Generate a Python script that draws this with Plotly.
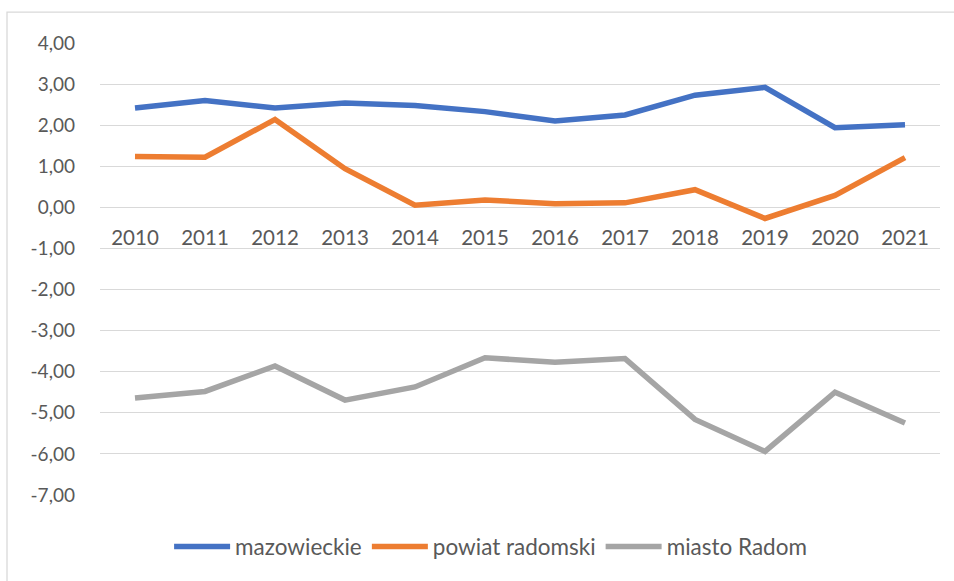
import plotly.graph_objects as go

years = ["2010", "2011", "2012", "2013", "2014", "2015", "2016", "2017", "2018", "2019", "2020", "2021"]
mazowieckie = [2.42, 2.60, 2.42, 2.54, 2.48, 2.33, 2.10, 2.25, 2.73, 2.92, 1.94, 2.01]
powiat_radomski = [1.24, 1.22, 2.14, 0.94, 0.05, 0.18, 0.09, 0.11, 0.43, -0.27, 0.29, 1.21]
miasto_radom = [-4.64, -4.48, -3.86, -4.69, -4.37, -3.66, -3.77, -3.68, -5.16, -5.94, -4.50, -5.25]
y_ticks = [4, 3, 2, 1, 0, -1, -2, -3, -4, -5, -6, -7]
y_tick_labels = ["4,00", "3,00", "2,00", "1,00", "0,00", "-1,00", "-2,00", "-3,00", "-4,00", "-5,00", "-6,00", "-7,00"]

series = [
    ("mazowieckie", mazowieckie, "#4472C4"),
    ("powiat radomski", powiat_radomski, "#ED7D31"),
    ("miasto Radom", miasto_radom, "#A5A5A5"),
]

fig = go.Figure()
for name, vals, color in series:
    fig.add_trace(go.Scatter(
        x=years, y=vals, name=name, mode="lines",
        line=dict(color=color, width=5.5, shape="linear"),
    ))

font_family = "Lato, 'Open Sans', sans-serif"
fig.update_layout(
    width=954, height=581,
    margin=dict(l=100, r=14, t=43, b=84),
    paper_bgcolor="white", plot_bgcolor="white",
    font=dict(family=font_family, size=18, color="#595959"),
    showlegend=True,
    legend=dict(orientation="h", x=0.465, xanchor="center", y=-0.115, yanchor="middle",
                font=dict(size=22.5, color="#595959"), itemwidth=56,
                traceorder="normal"),
    xaxis=dict(
        type="category", range=[-0.5, 11.5], showgrid=False, zeroline=False,
        showline=False, ticks="", anchor="free", position=7/11,
        tickfont=dict(size=20.5, color="#595959"), ticklabelstandoff=16,
    ),
    yaxis=dict(
        range=[-7, 4], tickvals=y_ticks, ticktext=y_tick_labels,
        showgrid=True, gridcolor="#D9D9D9", gridwidth=1.3, zeroline=False,
        showline=False, ticks="", ticklabelstandoff=24,
        tickfont=dict(size=19, color="#595959"),
    ),
    shapes=[dict(type="rect", xref="paper", yref="paper",
                 x0=(7 - 100) / 840, x1=1.2, y0=-0.3, y1=1 + 31 / 454,
                 line=dict(color="#D9D9D9", width=1.3), fillcolor="rgba(0,0,0,0)", layer="below")],
)

fig.write_html("out.html", config={"displayModeBar": False},
               post_script="document.body.style.margin='0';")
